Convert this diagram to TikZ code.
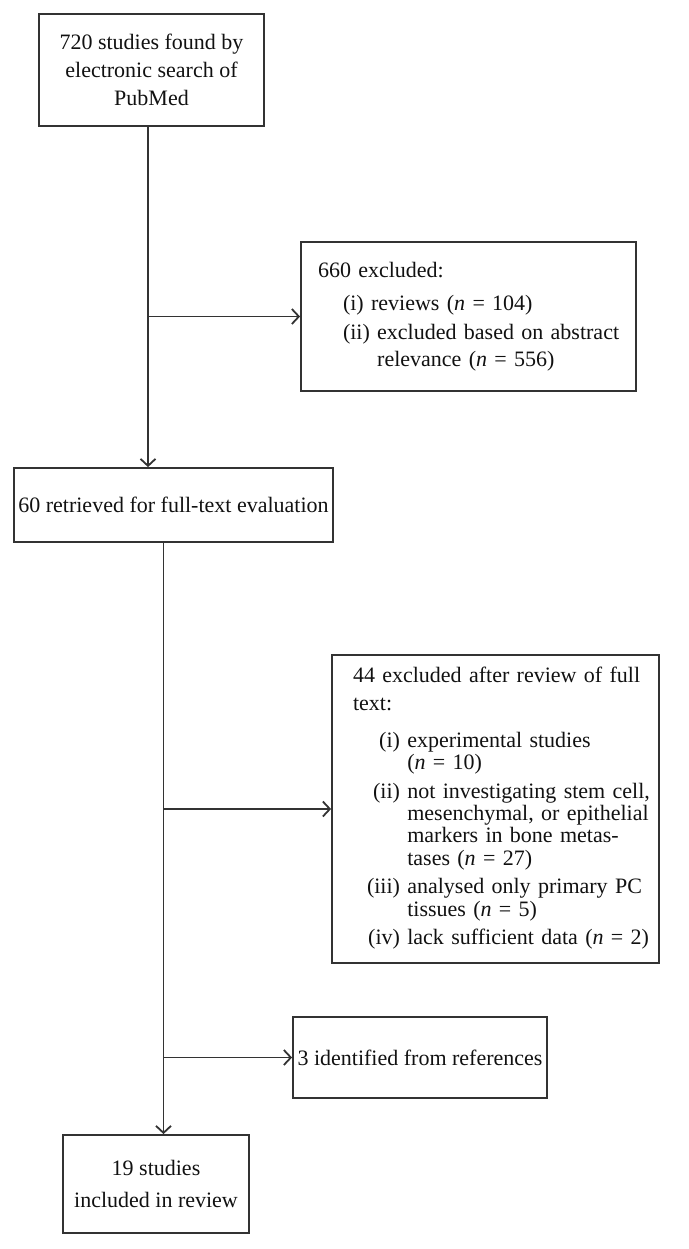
\documentclass[tikz,border=0pt]{standalone}
\usepackage{fontspec}
\setmainfont{Liberation Serif}
\usepackage{tikz}
\usetikzlibrary{arrows.meta}
\definecolor{boxline}{HTML}{333333}
\definecolor{boxtext}{HTML}{111111}
\tikzset{
  prisma box/.style={draw=boxline,line width=.9pt,text=boxtext,inner sep=0pt,align=center},
  prisma list/.style={prisma box,align=left,inner ysep=0pt},
  prisma arrow/.style={draw=boxline,line width=.9pt,-{Straight Barb[length=3.5pt,width=7.5pt]}}
}

\begin{document}
\begin{tikzpicture}[font=\fontsize{11}{14}\selectfont,x=.5pt,y=-.5pt]
  \useasboundingbox (0,0) rectangle (689,1249);
  \node[prisma box,minimum width=112.5pt,minimum height=56pt] (search) at (151.5,70)
    {720 studies found by\\electronic search of\\PubMed};
  \node[prisma list,minimum height=74.5pt,text width=150.5pt,inner xsep=8.5pt] (excl1) at (468.5,316.5)
    {660 excluded:\\[2.5pt]
     \hspace*{12.5pt}(i) reviews (\textit{n} = 104)\\[.5pt]
     \mbox{\hspace*{12.5pt}(ii) excluded based on abstract}\\[-.5pt]
     \hspace*{12.5pt}\phantom{(ii) }relevance (\textit{n} = 556)};
  \node[prisma box,minimum width=159.5pt,minimum height=37pt] (retrieved) at (173.5,505)
    {60 retrieved for full-text evaluation};
  \node[prisma list,minimum height=154pt,text width=142.5pt,inner xsep=10.5pt] (excl2) at (495.5,809)
    {\mbox{44 excluded after review of full}\\
     text:\\[4.5pt]
     \hspace*{7pt}{\def\arraystretch{.8}\begin{tabular}[t]{@{}r@{\ }l@{}}
       (i) & experimental studies\\
           & (\textit{n} = 10)\\[3pt]
       (ii) & not investigating stem cell,\\
            & mesenchymal, or epithelial\\
            & markers in bone metas-\\
            & tases (\textit{n} = 27)\\[3pt]
       (iii) & analysed only primary PC\\
             & tissues (\textit{n} = 5)\\[3pt]
       (iv) & lack sufficient data (\textit{n} = 2)
     \end{tabular}}};
  \node[prisma box,minimum width=127pt,minimum height=40.5pt] (refs) at (420,1057.5)
    {3 identified from references};
  \node[prisma box,minimum width=93pt,minimum height=49pt] (included) at (156,1184)
    {19 studies\\[2pt]included in review};
  % trunk lines
  \coordinate (t1) at (148,0);
  \coordinate (t2) at (163.5,0);
  \draw[prisma arrow] (search.south -| t1) -- (retrieved.north -| t1);
  \draw[prisma arrow] (t1 |- excl1.west) -- (excl1.west);
  \draw[prisma arrow] (retrieved.south -| t2) -- (included.north -| t2);
  \draw[prisma arrow] (t2 |- excl2.west) -- (excl2.west);
  \draw[prisma arrow] (t2 |- refs.west) -- (refs.west);
\end{tikzpicture}
\end{document}
